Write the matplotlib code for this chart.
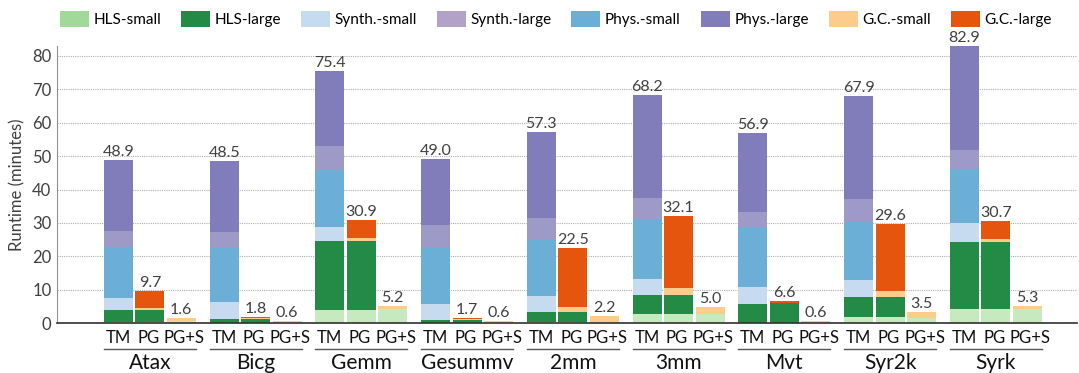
import matplotlib
matplotlib.use("Agg")
import matplotlib.pyplot as plt
from matplotlib.patches import Patch
import numpy as np

plt.rcParams['font.family'] = ['Lato', 'DejaVu Sans']

benchmarks = ["Atax", "Bicg", "Gemm", "Gesummv", "2mm", "3mm", "Mvt", "Syr2k", "Syrk"]
bar_labels = ["TM", "PG", "PG+S"]

# TM bars: stacked segments (minutes)
tm_hls_small   = [0.5, 0.1, 4.0, 0.1, 0.3, 2.8, 0.1, 1.9, 4.3]
tm_hls_large   = [3.5, 1.2, 20.6, 0.9, 3.1, 5.7, 5.7, 6.0, 20.1]
tm_synth_small = [3.6, 5.1, 4.1, 4.8, 4.8, 4.7, 5.0, 5.0, 5.5]
tm_phys_small  = [15.2, 16.2, 17.1, 16.8, 16.7, 17.9, 17.8, 17.3, 16.2]
tm_synth_large = [4.9, 4.7, 7.2, 6.8, 6.6, 6.4, 4.7, 6.9, 5.7]
tm_phys_large  = [21.2, 21.2, 22.4, 19.6, 25.8, 30.7, 23.6, 30.8, 31.1]

# PG bars
pg_hls_small = [0.5, 0.1, 4.0, 0.1, 0.3, 2.8, 0.1, 1.9, 4.3]
pg_hls_large = [3.5, 1.2, 20.6, 0.9, 3.1, 5.7, 6.0, 6.0, 20.1]
pg_gc_small  = [0.5, 0.2, 0.9, 0.3, 1.5, 2.1, 0.0, 1.9, 0.8]
pg_gc_large  = [5.2, 0.3, 5.4, 0.4, 17.6, 21.5, 0.5, 19.8, 5.5]

# PG+S bars
pgs_hls_small = [0.6, 0.1, 4.2, 0.1, 0.3, 2.8, 0.1, 1.7, 4.3]
pgs_gc_small  = [1.0, 0.5, 1.0, 0.5, 1.9, 2.2, 0.5, 1.8, 1.0]

legend_names = ["HLS-small", "HLS-large", "Synth.-small", "Synth.-large",
                "Phys.-small", "Phys.-large", "G.C.-small", "G.C.-large"]
legend_colors = ["#a1d99b", "#238b45", "#c6dbef", "#b3a2c7",
                 "#6baed6", "#807dba", "#fdcc8a", "#e6550d"]
c_hls_small = "#c7e9c0"
c_hls_large = "#238b45"
c_synth_small = "#c6dbef"
c_synth_large = "#9e9ac8"
c_phys_small = "#6baed6"
c_phys_large = "#807dba"
c_gc_small = "#fdcc8a"
c_gc_large = "#e6550d"

fig = plt.figure(figsize=(10.79, 3.73), dpi=100)
ax = fig.add_axes([57/1079, 49.7/373, 1020/1079, 277.3/373])

n = len(benchmarks)
group_step = 3.36
width = 0.92
base = np.arange(n) * group_step
x_tm, x_pg, x_pgs = base, base + 1, base + 2

def stack(x, segs, colors):
    bottom = np.zeros(len(x))
    for s, c in zip(segs, colors):
        s = np.asarray(s, dtype=float)
        ax.bar(x, s, width, bottom=bottom, color=c, edgecolor='none', zorder=2)
        bottom = bottom + s
    return bottom

tot_tm = stack(x_tm, [tm_hls_small, tm_hls_large, tm_synth_small, tm_phys_small,
                      tm_synth_large, tm_phys_large],
               [c_hls_small, c_hls_large, c_synth_small, c_phys_small,
                c_synth_large, c_phys_large])
tot_pg = stack(x_pg, [pg_hls_small, pg_hls_large, pg_gc_small, pg_gc_large],
               [c_hls_small, c_hls_large, c_gc_small, c_gc_large])
tot_pgs = stack(x_pgs, [pgs_hls_small, pgs_gc_small], [c_hls_small, c_gc_small])

txtc = "#404040"
for xs, tots in [(x_tm, tot_tm), (x_pg, tot_pg), (x_pgs, tot_pgs)]:
    for xv, t in zip(xs, tots):
        ax.text(xv, t + 0.3, f"{t:.1f}", ha='center', va='bottom',
                fontsize=11.5, color=txtc, zorder=4)

ax.set_xlim(-1.95, 30.46)
ax.set_ylim(0, 82.9)
ax.set_yticks(np.arange(0, 81, 10))
ax.tick_params(axis='y', length=0, labelsize=12, labelcolor=txtc, pad=4)
ax.yaxis.grid(True, linestyle=(0, (1, 1)), color="#b0b0b0", linewidth=0.8, zorder=0)
ax.set_axisbelow(True)
ax.set_xticks([])
for s in ["top", "right"]:
    ax.spines[s].set_visible(False)
ax.spines["left"].set_color("#909090")
ax.spines["bottom"].set_color("#303030")
ax.spines["bottom"].set_linewidth(1.2)
ax.set_ylabel("Runtime (minutes)", fontsize=12, color=txtc, labelpad=5)

trans = ax.get_xaxis_transform()
label_shift = [0.0, -0.05, 0.1]
for i in range(n):
    for j, lab in enumerate(bar_labels):
        ax.text(base[i] + j + label_shift[j], -0.053, lab, transform=trans,
                ha='center', va='center', fontsize=12, color="#111111", clip_on=False)
    ax.plot([base[i] - width/2, base[i] + 2 + width/2], [-0.093, -0.093],
            transform=trans, color="#555555", lw=1.0, clip_on=False)
    ax.text(base[i] + 1, -0.142, benchmarks[i], transform=trans, ha='center',
            va='center', fontsize=15, color="#111111", clip_on=False)

handles = [Patch(facecolor=c, edgecolor='none') for c in legend_colors]
fig.legend(handles, legend_names, loc='upper center', bbox_to_anchor=(0.515, 1.0),
           ncol=8, frameon=False, fontsize=11, handlelength=1.9, handleheight=1.3,
           handletextpad=0.3, columnspacing=1.3, borderaxespad=0.3)

fig.savefig("out.png", dpi=100)
